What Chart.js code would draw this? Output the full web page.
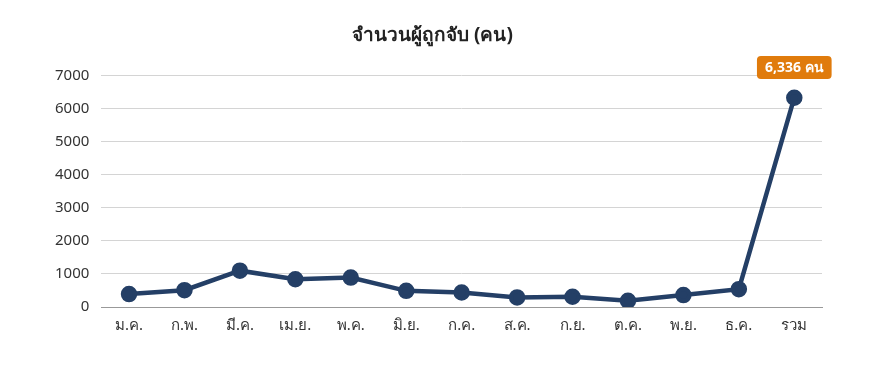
<!DOCTYPE html>
<html>
<head>
<meta charset="utf-8">
<script src="https://cdn.jsdelivr.net/npm/chart.js@4"></script>
<style>
  html, body { margin: 0; padding: 0; background: #fff; }
  #wrap { width: 884px; height: 366px; }
</style>
</head>
<body>
<div id="wrap"><canvas id="report"></canvas></div>
<script>
const months = ['ม.ค.', 'ก.พ.', 'มี.ค.', 'เม.ย.', 'พ.ค.', 'มิ.ย.', 'ก.ค.', 'ส.ค.', 'ก.ย.', 'ต.ค.', 'พ.ย.', 'ธ.ค.', 'รวม'];
const arrests = [390, 510, 1100, 840, 890, 490, 440, 290, 310, 190, 360, 540, 6336];
const yTicks = [0, 1000, 2000, 3000, 4000, 5000, 6000, 7000];
const chartTitle = 'จำนวนผู้ถูกจับ (คน)';
const totalLabel = '6,336 คน';

const FONT = "'Noto Sans', 'Open Sans', sans-serif";

// orange tag above the last point
const totalTag = {
    id: 'totalTag',
    afterDatasetsDraw(chart) {
        const meta = chart.getDatasetMeta(0);
        const pt = meta.data[meta.data.length - 1];
        const ctx = chart.ctx;
        ctx.save();
        ctx.font = "bold 14px " + FONT;
        const w = ctx.measureText(totalLabel).width + 16;
        const h = 23;
        const x = pt.x - w / 2;
        const y = 56;
        ctx.fillStyle = '#e07b0c';
        ctx.beginPath();
        ctx.roundRect(x, y, w, h, 4);
        ctx.fill();
        ctx.fillStyle = '#fff';
        ctx.textAlign = 'center';
        ctx.textBaseline = 'middle';
        ctx.fillText(totalLabel, pt.x, y + h / 2 + 1);
        ctx.restore();
    }
};

const ctx = document.getElementById('report').getContext('2d');
let myChart = new Chart(ctx, {
    type: 'line',
    data: {
        labels: months,
        datasets: [{
            label: chartTitle,
            data: arrests,
            borderColor: '#243f66',
            backgroundColor: '#243f66',
            borderWidth: 4.5,
            pointRadius: 6,
            pointHoverRadius: 6,
            tension: 0
        }]
    },
    options: {
        responsive: true,
        maintainAspectRatio: false,
        animation: false,
        layout: { padding: { left: 43, right: 62, top: 10, bottom: 21 } },
        plugins: {
            legend: { display: false },
            tooltip: { enabled: false },
            title: {
                display: true,
                text: chartTitle,
                color: '#222',
                font: { family: FONT, size: 19, weight: 'bold' },
                padding: { top: 14, bottom: 29 }
            }
        },
        scales: {
            x: {
                offset: true,
                grid: { display: false, drawTicks: false },
                border: { color: '#999', width: 1 },
                ticks: { color: '#333', font: { family: FONT, size: 15 }, padding: 10 }
            },
            y: {
                min: 0,
                max: 7000,
                afterBuildTicks(axis) { axis.ticks = yTicks.map(v => ({ value: v })); },
                grid: { color: '#d4d4d4', drawTicks: false },
                border: { display: false },
                ticks: {
                    color: '#333',
                    font: { family: FONT, size: 15 },
                    padding: 12,
                    callback: v => String(v)
                }
            }
        }
    },
    plugins: [totalTag]
});
</script>
</body>
</html>
